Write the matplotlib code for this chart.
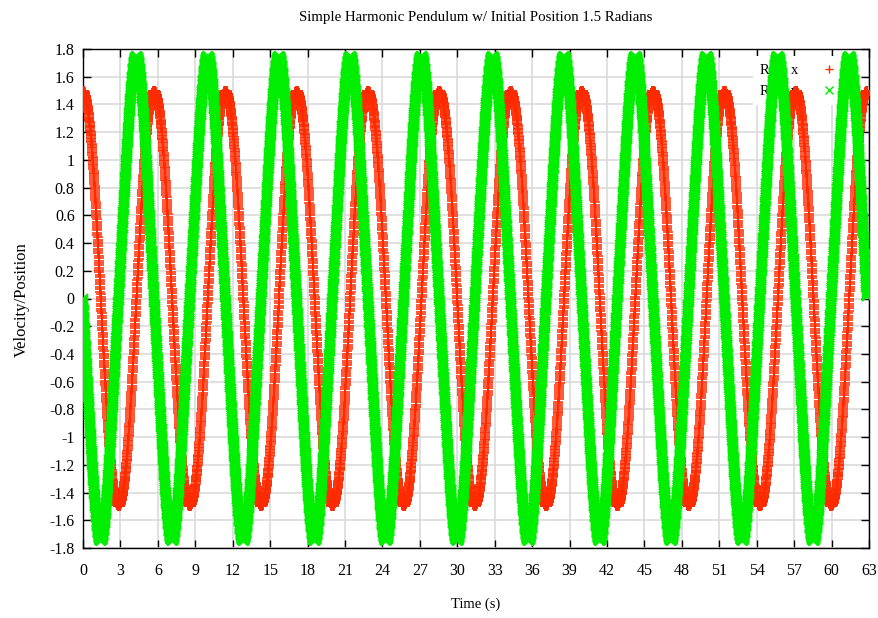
import numpy as np
import matplotlib.pyplot as plt
from matplotlib.ticker import MultipleLocator, FuncFormatter

# pendulum parameters and integration settings
g = 9.8
length = 6.0
theta0 = 1.5
omega0 = 0.0
dt = 0.01
t_end = 20 * np.pi


def accel(theta):
    return -(g / length) * np.sin(theta)


def rk4(theta, omega, dt, n):
    xs = [theta]
    vs = [omega]
    for i in range(n):
        k1x = omega
        k1v = accel(theta)
        k2x = omega + 0.5 * dt * k1v
        k2v = accel(theta + 0.5 * dt * k1x)
        k3x = omega + 0.5 * dt * k2v
        k3v = accel(theta + 0.5 * dt * k2x)
        k4x = omega + dt * k3v
        k4v = accel(theta + dt * k3x)
        theta = theta + dt / 6. * (k1x + 2 * k2x + 2 * k3x + k4x)
        omega = omega + dt / 6. * (k1v + 2 * k2v + 2 * k3v + k4v)
        xs.append(theta)
        vs.append(omega)
    return np.array(xs), np.array(vs)


n = int(t_end / dt)
t = np.arange(n + 1) * dt
x, v = rk4(theta0, omega0, dt, n)

plt.rcParams['font.family'] = ['Liberation Serif', 'DejaVu Serif']
plt.rcParams['font.size'] = 11.5

fig = plt.figure(figsize=(8.79, 6.18), dpi=100)
ax = fig.add_axes([83/879, 1-548/618, 786/879, 499/618])

ax.plot(t, x, '+', color='#ff2a00', ms=7, mew=1.1, zorder=3, label='RK4 x')
ax.plot(t, v, 'x', color='#00ee00', ms=7.5, mew=1.5, zorder=4, label='RK4 v')

ax.set_xlim(0, 63)
ax.set_ylim(-1.8, 1.8)
ax.xaxis.set_major_locator(MultipleLocator(3))
ax.yaxis.set_major_locator(MultipleLocator(0.2))
ax.yaxis.set_major_formatter(FuncFormatter(lambda val, pos: '%g' % round(val, 1)))
ax.xaxis.set_major_formatter(FuncFormatter(lambda val, pos: '%g' % round(val)))
ax.tick_params(direction='in', length=6, width=1, top=True, right=True)
ax.tick_params(axis='x', pad=11)
ax.tick_params(axis='y', pad=6)
ax.grid(True, color='#dadada', lw=1.2)
ax.set_axisbelow(True)
for s in ax.spines.values():
    s.set_linewidth(1.0)

leg = ax.legend(loc='upper right', markerfirst=False, frameon=True, fancybox=False,
                edgecolor='none', facecolor='white', framealpha=1,
                bbox_to_anchor=(0.981, 1.0), borderpad=0.5, handletextpad=1.3,
                handlelength=1.5, labelspacing=0.55, fontsize=10.5)
for h in leg.legend_handles:
    h.set_markersize(6)
    h.set_markeredgewidth(1.0)
leg.set_zorder(2)

fig.text(476/879, 1-17/618, 'Simple Harmonic Pendulum w/ Initial Position 1.5 Radians',
         ha='center', va='center', fontsize=10.75)
fig.text(476/879, 1-604/618, 'Time (s)', ha='center', va='center', fontsize=10.5)
fig.text(22/879, 1-300/618, 'Velocity/Position', ha='center', va='center',
         rotation=90, fontsize=12)

fig.savefig('out.png', dpi=100)
